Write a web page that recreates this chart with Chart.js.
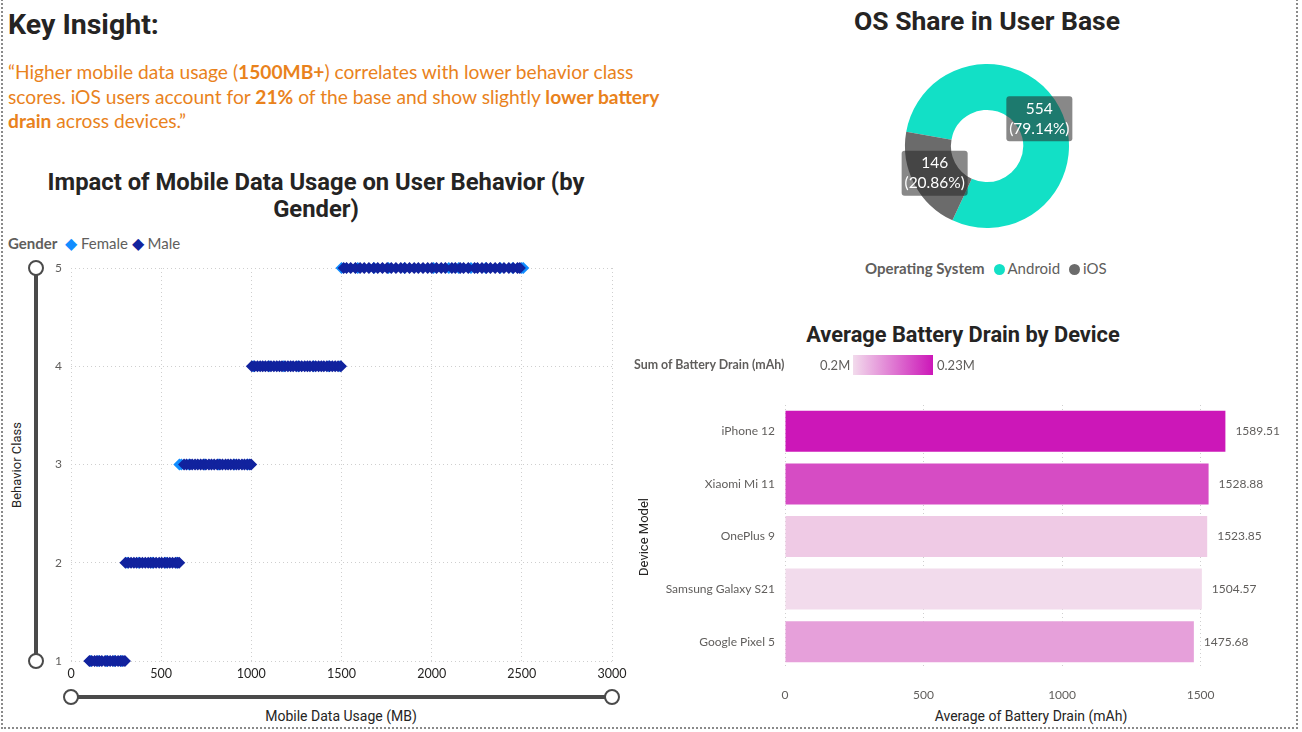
<!DOCTYPE html>
<html><head><meta charset="utf-8">
<script src="https://cdn.jsdelivr.net/npm/chart.js@4.4.0/dist/chart.umd.min.js"></script>
<style>
html,body{margin:0;padding:0;background:#fff;}
body{width:1302px;height:732px;position:relative;overflow:hidden;font-family:Lato,"Open Sans",sans-serif;}
.abs{position:absolute;white-space:nowrap;}
.frame{position:absolute;left:1px;top:-4px;width:1297px;height:733px;border:2px dotted #8a8a8a;box-sizing:border-box;pointer-events:none;}
.ttl{font-family:Roboto,sans-serif;font-weight:700;color:#252423;}
.lg{font-size:15px;color:#605E5C;}
.lg b{color:#605E5C;}
.dot{font-size:16px;}
.cdot{display:inline-block;width:11px;height:11px;border-radius:50%;margin:0 3px 0 9px;vertical-align:-1px;}
.ax{font-family:Roboto,sans-serif;color:#252423;font-size:13px;}
canvas{position:absolute;}
</style></head>
<body>
<div class="frame"></div>

<div class="abs ttl" style="left:8px;top:9px;font-size:28.5px;line-height:32px;">Key Insight:</div>
<div class="abs" style="left:8px;top:60px;font-size:19.2px;line-height:24.5px;color:#E9821C;">“Higher mobile data usage (<b>1500MB+</b>) correlates with lower behavior class<br>scores. iOS users account for <b>21%</b> of the base and show slightly <b>lower battery<br>drain</b> across devices.”</div>

<div class="abs ttl" style="left:0;width:632px;text-align:center;top:169px;font-size:23.8px;line-height:27px;">Impact of Mobile Data Usage on User Behavior (by<br>Gender)</div>
<div class="abs lg" style="left:8px;top:234px;line-height:18px;"><b>Gender</b>&nbsp; <span class="dot" style="color:#118DFF">◆</span> Female <span class="dot" style="color:#12239E">◆</span> Male</div>
<div class="abs ax" style="left:16px;top:465px;transform:translate(-50%,-50%) rotate(-90deg);">Behavior Class</div>
<div class="abs ax" style="left:341px;top:716px;transform:translate(-50%,-50%);font-size:14px;">Mobile Data Usage (MB)</div>
<canvas id="scatter" width="640" height="482" style="left:0;top:250px;"></canvas>

<div class="abs ttl" style="left:787px;width:400px;text-align:center;top:6px;font-size:26.5px;line-height:30px;">OS Share in User Base</div>
<canvas id="donut" width="200" height="200" style="left:887px;top:46px;"></canvas>
<div class="abs lg" style="left:865px;top:259px;line-height:18px;"><b>Operating System</b><span class="cdot" style="background:#12E0C6"></span>Android<span class="cdot" style="background:#6B6B6B"></span>iOS</div>

<div class="abs ttl" style="left:763px;width:400px;text-align:center;top:322px;font-size:21.8px;line-height:26px;">Average Battery Drain by Device</div>
<div class="abs" style="left:634px;top:357px;font-size:12.4px;line-height:16px;color:#605E5C;"><b>Sum of Battery Drain (mAh)</b></div>
<div class="abs" style="left:820px;top:357px;font-size:13px;line-height:16px;color:#605E5C;">0.2M</div>
<div class="abs" style="left:853px;top:355px;width:80px;height:20px;background:linear-gradient(to right,#F2DBEC,#CC17B8);"></div>
<div class="abs" style="left:937px;top:357px;font-size:13px;line-height:16px;color:#605E5C;">0.23M</div>
<div class="abs ax" style="left:643px;top:537px;transform:translate(-50%,-50%) rotate(-90deg);">Device Model</div>
<div class="abs ax" style="left:1031px;top:716px;transform:translate(-50%,-50%);font-size:14px;">Average of Battery Drain (mAh)</div>
<canvas id="bars" width="660" height="352" style="left:620px;top:380px;"></canvas>

<script>
// ---------- Scatter data (Mobile Data Usage MB per Behavior Class) ----------
const class1Male   = [102,115,131,144,158,171,189,203,217,232,246,261,274,288,299];
const class1Female = [108,150,196,240,281];
const class2Male   = [302,318,333,349,364,381,396,412,428,441,457,472,489,503,519,534,548,563,579,592,600];
const class2Female = [311,376,450,526,587];
const class3Male   = [627,641,659,672,688,703,719,734,748,765,779,794,811,826,840,857,871,886,902,917,931,948,962,977,991,999];
const class3Female = [601,612,655,740,820,905,980];
const class4Male   = [1003,1018,1034,1049,1063,1078,1094,1109,1125,1141,1156,1170,1187,1203,1218,1232,1249,1264,1279,1296,1311,1325,1342,1357,1373,1388,1402,1419,1434,1449,1465,1481,1497];
const class4Female = [1012,1098,1180,1260,1345,1430,1492];
const class5Male   = [1512,1528,1551,1577,1603,1626,1652,1679,1701,1727,1753,1776,1802,1829,1851,1877,1903,1926,1952,1978,2001,2027,2053,2076,2112,2131,2158,2177,2203,2238,2254,2279,2303,2326,2352,2377,2401,2428,2452,2476,2489];
const class5Female = [1500,1590,1680,1760,1850,2010,2095,2150,2218,2300,2380,2450,2499,2508];
const behaviorClasses = [1,2,3,4,5];
const xTicks = [0,500,1000,1500,2000,2500,3000];

// ---------- OS share ----------
const osLabels = ['Android','iOS'];
const osCounts = [554,146];

// ---------- Battery drain ----------
const devices = ['iPhone 12','Xiaomi Mi 11','OnePlus 9','Samsung Galaxy S21','Google Pixel 5'];
const avgDrain = [1589.51,1528.88,1523.85,1504.57,1475.68];
const deviceColors = ['#CC17B8','#D64CC4','#EFCAE5','#F2DBEC','#E6A0DA'];
const drainTicks = [0,500,1000,1500];

function pts(xs, y){ return xs.map(x => ({x:x, y:y})); }
const maleGroups = [class1Male,class2Male,class3Male,class4Male,class5Male];
const femaleGroups = [class1Female,class2Female,class3Female,class4Female,class5Female];
const malePts = [].concat(...maleGroups.map((g,i)=>pts(g,behaviorClasses[i])));
const femalePts = [].concat(...femaleGroups.map((g,i)=>pts(g,behaviorClasses[i])));

const GRID = '#CFCFCF';
const TICKC = '#605E5C';

const sliderPlugin = {
  id:'sliders',
  afterDraw(chart){
    const {ctx, chartArea:a} = chart;
    ctx.save();
    ctx.strokeStyle = '#4a4a4a'; ctx.lineWidth = 4; ctx.lineCap='butt';
    const sx = a.left - 35, sy = a.bottom + 36;
    ctx.beginPath(); ctx.moveTo(sx, a.top); ctx.lineTo(sx, a.bottom); ctx.stroke();
    ctx.beginPath(); ctx.moveTo(a.left, sy); ctx.lineTo(a.right, sy); ctx.stroke();
    ctx.lineWidth = 2; ctx.fillStyle = '#fff'; ctx.strokeStyle = '#4a4a4a';
    [[sx,a.top],[sx,a.bottom],[a.left,sy],[a.right,sy]].forEach(([x,y])=>{
      ctx.beginPath(); ctx.arc(x,y,7,0,Math.PI*2); ctx.fill(); ctx.stroke();
    });
    ctx.restore();
  }
};

new Chart(document.getElementById('scatter'), {
  type:'scatter',
  data:{datasets:[
    {label:'Female', data:femalePts, backgroundColor:'#118DFF', borderColor:'#118DFF', pointStyle:'rectRot', pointRadius:5, borderWidth:1.5, clip:false, order:2},
    {label:'Male', data:malePts, backgroundColor:'#12239E', borderColor:'#12239E', pointStyle:'rectRot', pointRadius:5, borderWidth:1.5, clip:false, order:1}
  ]},
  options:{
    responsive:false, animation:false,
    layout:{padding:{top:18,right:28,left:0,bottom:0}},
    plugins:{legend:{display:false}, tooltip:{enabled:false}},
    scales:{
      x:{type:'linear', min:xTicks[0], max:xTicks[xTicks.length-1],
        afterFit:s=>{s.height=71;},
        afterBuildTicks:s=>{s.ticks = xTicks.map(v=>({value:v}));},
        ticks:{padding:5, color:'#252423', font:{family:'Lato', size:12.5}, callback:v=>String(v)},
        grid:{color:GRID, drawTicks:false}, border:{display:false, dash:[1,3]}},
      y:{type:'linear', min:1, max:5,
        afterFit:s=>{s.width=71;},
        afterBuildTicks:s=>{s.ticks = behaviorClasses.map(v=>({value:v}));},
        ticks:{padding:9, color:TICKC, font:{family:'Lato', size:12}, callback:v=>String(v)},
        grid:{color:GRID, drawTicks:false}, border:{display:false, dash:[1,3]}}
    }
  },
  plugins:[sliderPlugin]
});

const donutLabelPlugin = {
  id:'donutLabels',
  afterDatasetsDraw(chart){
    const {ctx} = chart;
    const meta = chart.getDatasetMeta(0);
    const data = chart.data.datasets[0].data;
    const total = data.reduce((a,b)=>a+b,0);
    ctx.save();
    meta.data.forEach((arc,i)=>{
      const p = arc.getProps(['x','y','startAngle','endAngle','innerRadius','outerRadius'],true);
      const mid = (p.startAngle+p.endAngle)/2;
      const r = (p.innerRadius+p.outerRadius)/2;
      const cx = p.x + Math.cos(mid)*r, cy = p.y + Math.sin(mid)*r;
      const w=66, h=45;
      ctx.fillStyle='rgba(39,39,39,0.55)';
      ctx.beginPath(); ctx.roundRect(cx-w/2, cy-h/2, w, h, 3); ctx.fill();
      ctx.fillStyle='#fff'; ctx.textAlign='center'; ctx.textBaseline='middle';
      ctx.font='15.5px Lato';
      ctx.fillText(String(data[i]), cx, cy-10);
      ctx.fillText('('+(data[i]/total*100).toFixed(2)+'%)', cx, cy+10);
    });
    ctx.restore();
  }
};

new Chart(document.getElementById('donut'), {
  type:'doughnut',
  data:{labels:osLabels, datasets:[{data:osCounts, backgroundColor:['#12E0C6','#6B6B6B'], borderWidth:0}]},
  options:{
    responsive:false, animation:false, rotation:-80, cutout:'44%',
    layout:{padding:18},
    plugins:{legend:{display:false}, tooltip:{enabled:false}}
  },
  plugins:[donutLabelPlugin]
});

const barValuePlugin = {
  id:'barValues',
  afterDatasetsDraw(chart){
    const {ctx} = chart;
    const meta = chart.getDatasetMeta(0);
    const data = chart.data.datasets[0].data;
    ctx.save();
    ctx.fillStyle=TICKC; ctx.font='12px Lato'; ctx.textAlign='left'; ctx.textBaseline='middle';
    meta.data.forEach((bar,i)=>{ ctx.fillText(data[i].toFixed(2), bar.x+10, bar.y); });
    ctx.restore();
  }
};

new Chart(document.getElementById('bars'), {
  type:'bar',
  data:{labels:devices, datasets:[{data:avgDrain, backgroundColor:deviceColors, borderWidth:0, categoryPercentage:1, barPercentage:0.78}]},
  options:{
    indexAxis:'y', responsive:false, animation:false,
    layout:{padding:{top:25,right:24,left:0,bottom:0}},
    plugins:{legend:{display:false}, tooltip:{enabled:false}},
    scales:{
      x:{type:'linear', min:0, max:1700,
        afterFit:s=>{s.height=64;},
        afterBuildTicks:s=>{s.ticks = drainTicks.map(v=>({value:v}));},
        ticks:{padding:20, color:TICKC, font:{family:'Lato', size:12}, callback:v=>String(v)},
        grid:{color:GRID, drawTicks:false}, border:{display:false, dash:[1,3]}},
      y:{afterFit:s=>{s.width=165;},
        ticks:{padding:10, color:TICKC, font:{family:'Lato', size:12}},
        grid:{display:false, drawTicks:false}, border:{display:false}}
    }
  },
  plugins:[barValuePlugin]
});
</script>
</body></html>
